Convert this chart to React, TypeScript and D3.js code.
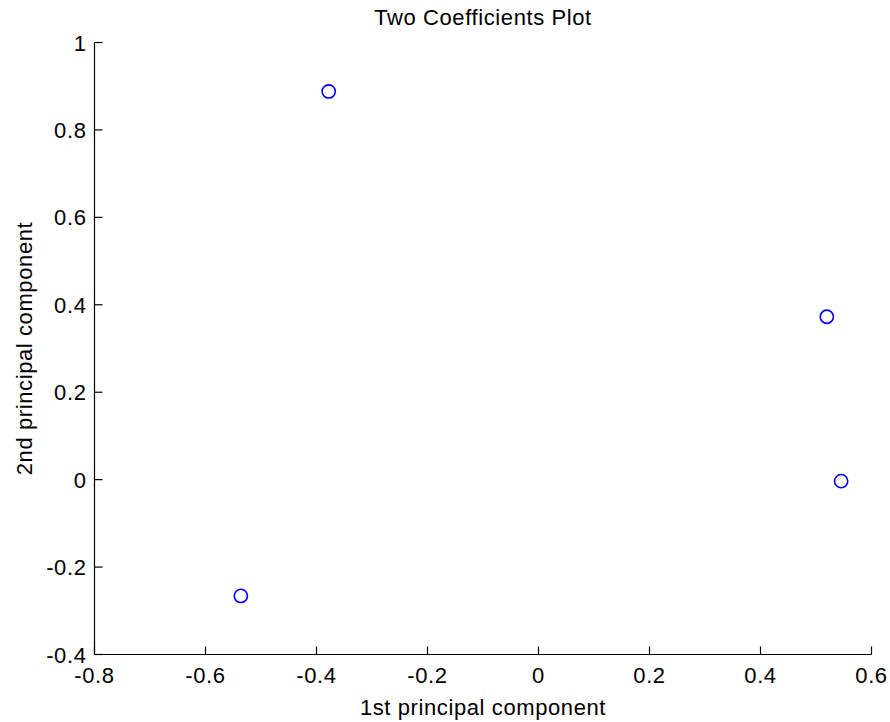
import React from "react";
import * as d3 from "d3";

// Coefficients of the first two principal components, one entry per variable
const pc1 = [-0.378, 0.5195, 0.5453, -0.5363];
const pc2 = [0.888, 0.3726, -0.0034, -0.266];

const xTicks = [-0.8, -0.6, -0.4, -0.2, 0, 0.2, 0.4, 0.6];
const yTicks = [-0.4, -0.2, 0, 0.2, 0.4, 0.6, 0.8, 1];
const xDomain = [-0.8, 0.6];
const yDomain = [-0.4, 1];

const titleText = "Two Coefficients Plot";
const xLabel = "1st principal component";
const yLabel = "2nd principal component";

const W = 890;
const H = 722;
const left = 94.5;
const right = 871.5;
const top = 42.5;
const bottom = 654.5;
const font = "'Liberation Sans', Arial, sans-serif";
const fs = 22;
const ls = 0.6;

function fmt(v: number): string {
  const r = Math.round(v * 10) / 10;
  return String(r);
}

export default function App() {
  const x = d3.scaleLinear().domain(xDomain).range([left, right]);
  const y = d3.scaleLinear().domain(yDomain).range([bottom, top]);
  const tickLen = 8;

  return (
    <svg
      width={W}
      height={H}
      style={{ position: "absolute", left: 0, top: 0, background: "#fff" }}
      fontFamily={font}
      letterSpacing={ls}
    >
      <rect x={0} y={0} width={W} height={H} fill="#fff" />
      {/* axes */}
      <line x1={left} y1={top} x2={left} y2={bottom} stroke="#000" strokeWidth={1.2} />
      <line x1={left} y1={bottom} x2={right} y2={bottom} stroke="#000" strokeWidth={1.2} />
      {xTicks.map((t) => (
        <g key={"x" + t}>
          <line x1={x(t)} x2={x(t)} y1={bottom} y2={bottom - tickLen} stroke="#000" strokeWidth={1.2} />
          <text x={x(t)} y={683} textAnchor="middle" fontSize={fs} fill="#000">
            {fmt(t)}
          </text>
        </g>
      ))}
      {yTicks.map((t) => (
        <g key={"y" + t}>
          <line x1={left} x2={left + tickLen} y1={y(t)} y2={y(t)} stroke="#000" strokeWidth={1.2} />
          <text x={left - 8} y={y(t) + 8} textAnchor="end" fontSize={fs} fill="#000">
            {fmt(t)}
          </text>
        </g>
      ))}
      {/* points */}
      {pc1.map((v, i) => (
        <circle
          key={i}
          cx={x(v)}
          cy={y(pc2[i])}
          r={6.6}
          fill="none"
          stroke="#0000ff"
          strokeWidth={1.6}
        />
      ))}
      {/* labels */}
      <text x={(left + right) / 2} y={25} textAnchor="middle" fontSize={fs} fill="#000">
        {titleText}
      </text>
      <text x={(left + right) / 2} y={715} textAnchor="middle" fontSize={fs} fill="#000">
        {xLabel}
      </text>
      <text
        transform={`translate(31.5, ${(top + bottom) / 2}) rotate(-90)`}
        textAnchor="middle"
        fontSize={fs}
        fill="#000"
      >
        {yLabel}
      </text>
    </svg>
  );
}
